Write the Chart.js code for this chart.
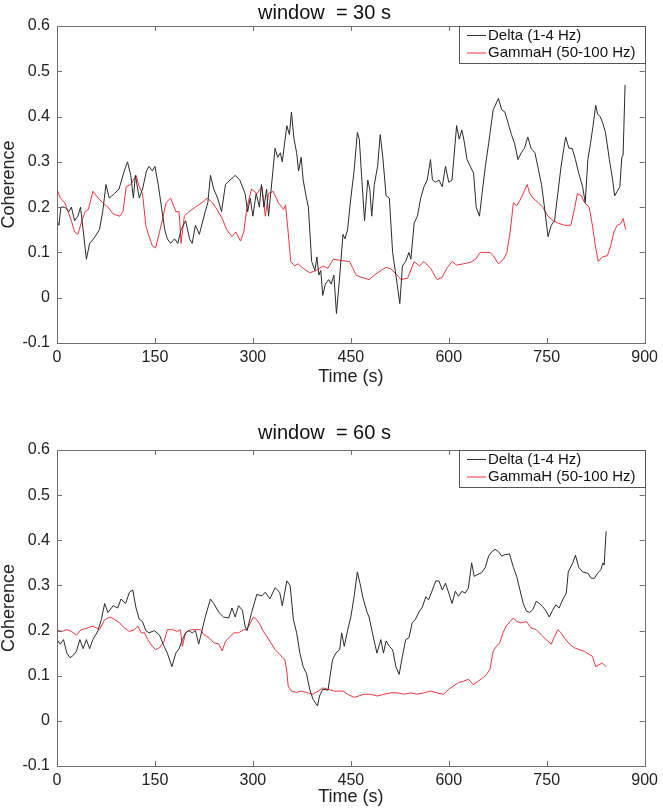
<!DOCTYPE html>
<html>
<head>
<meta charset="utf-8">
<script src="https://cdn.jsdelivr.net/npm/chart.js@4.4.1/dist/chart.umd.min.js"></script>
<style>
  body { margin: 0; background: #fff; }
  canvas { display: block; }
</style>
</head>
<body>
<canvas id="chart1" width="663" height="400"></canvas>
<canvas id="chart2" width="663" height="411"></canvas>
<script>
// Coherence, [time (s), value]
const seriesNames = ["Delta (1-4 Hz)", "GammaH (50-100 Hz)"];
const panelTitles = ["window  = 30 s", "window  = 60 s"];
const xTickValues = [0, 150, 300, 450, 600, 750, 900];
const yTickValues = [-0.1, 0, 0.1, 0.2, 0.3, 0.4, 0.5, 0.6];

const delta30 = [[0,0.17],[3,0.16],[6,0.2],[12,0.2],[18,0.19],[22,0.2],[27,0.17],[32,0.18],[36,0.2],[40,0.15],[45,0.085],[50,0.12],[56,0.13],[65,0.15],[70,0.19],[75,0.25],[80,0.22],[88,0.23],[95,0.24],[103,0.28],[108,0.3],[113,0.27],[117,0.22],[120,0.27],[126,0.22],[131,0.24],[137,0.28],[141,0.29],[146,0.28],[150,0.29],[155,0.25],[160,0.2],[165,0.15],[169,0.13],[174,0.12],[180,0.13],[185,0.12],[190,0.15],[197,0.17],[203,0.13],[207,0.12],[212,0.16],[218,0.14],[227,0.19],[231,0.21],[235,0.27],[240,0.24],[246,0.22],[252,0.19],[258,0.25],[265,0.26],[273,0.27],[280,0.26],[288,0.23],[292,0.19],[296,0.22],[300,0.18],[305,0.23],[310,0.2],[313,0.25],[317,0.2],[321,0.24],[324,0.18],[328,0.24],[334,0.33],[338,0.31],[342,0.32],[345,0.3],[352,0.38],[356,0.36],[359,0.41],[363,0.35],[367,0.32],[370,0.28],[374,0.31],[377,0.26],[382,0.22],[385,0.2],[390,0.08],[395,0.06],[398,0.09],[401,0.05],[404,0.06],[407,0.005],[411,0.03],[416,0.04],[420,0.03],[424,0.05],[428,-0.035],[432,0.03],[438,0.14],[441,0.13],[445,0.15],[450,0.22],[455,0.28],[460,0.365],[463,0.35],[466,0.28],[471,0.17],[476,0.26],[479,0.24],[482,0.18],[486,0.25],[491,0.29],[495,0.36],[499,0.31],[504,0.225],[509,0.22],[514,0.1],[521,0.03],[525,-0.013],[529,0.07],[534,0.08],[539,0.1],[542,0.085],[547,0.165],[552,0.18],[557,0.22],[562,0.245],[567,0.26],[572,0.305],[575,0.26],[580,0.255],[585,0.26],[590,0.245],[595,0.29],[600,0.255],[605,0.26],[612,0.38],[616,0.35],[620,0.37],[623,0.35],[628,0.305],[633,0.29],[638,0.275],[642,0.2],[647,0.18],[651,0.23],[656,0.29],[661,0.34],[668,0.415],[676,0.44],[681,0.415],[686,0.41],[691,0.385],[696,0.36],[701,0.34],[706,0.305],[711,0.32],[716,0.33],[721,0.355],[726,0.33],[732,0.32],[737,0.285],[742,0.25],[747,0.195],[752,0.135],[757,0.16],[762,0.17],[767,0.23],[772,0.29],[779,0.355],[784,0.33],[789,0.33],[794,0.305],[799,0.275],[805,0.245],[809,0.21],[813,0.305],[817,0.34],[821,0.38],[825,0.425],[828,0.405],[832,0.4],[836,0.385],[840,0.365],[846,0.305],[851,0.26],[854,0.225],[858,0.235],[862,0.245],[865,0.31],[867,0.315],[870,0.47]];

const gamma30 = [[0,0.24],[5,0.22],[12,0.21],[17,0.19],[22,0.17],[27,0.145],[32,0.14],[37,0.165],[43,0.19],[48,0.195],[55,0.235],[63,0.22],[70,0.21],[78,0.2],[86,0.185],[96,0.18],[101,0.19],[106,0.245],[113,0.25],[121,0.27],[126,0.245],[131,0.23],[136,0.16],[141,0.135],[146,0.115],[151,0.11],[157,0.145],[162,0.175],[167,0.21],[174,0.22],[182,0.19],[187,0.19],[190,0.12],[195,0.18],[202,0.19],[212,0.2],[222,0.21],[230,0.22],[238,0.21],[245,0.195],[253,0.175],[260,0.15],[268,0.135],[274,0.145],[281,0.125],[286,0.145],[291,0.2],[298,0.24],[306,0.23],[314,0.245],[319,0.18],[324,0.23],[331,0.235],[339,0.21],[347,0.195],[350,0.205],[354,0.145],[358,0.08],[364,0.07],[369,0.075],[377,0.065],[387,0.055],[397,0.06],[407,0.07],[415,0.065],[423,0.085],[436,0.082],[448,0.08],[453,0.065],[458,0.05],[466,0.045],[478,0.04],[486,0.05],[496,0.06],[504,0.067],[511,0.064],[519,0.053],[527,0.04],[537,0.043],[547,0.08],[555,0.07],[562,0.08],[572,0.065],[582,0.04],[590,0.045],[597,0.065],[605,0.08],[612,0.072],[623,0.075],[633,0.078],[641,0.085],[648,0.1],[656,0.1],[663,0.1],[668,0.093],[676,0.075],[684,0.085],[689,0.1],[694,0.145],[699,0.21],[704,0.203],[709,0.215],[714,0.23],[720,0.25],[724,0.23],[729,0.22],[737,0.21],[744,0.2],[752,0.18],[760,0.17],[767,0.165],[777,0.16],[787,0.16],[793,0.2],[797,0.23],[803,0.225],[808,0.21],[815,0.2],[820,0.16],[825,0.11],[829,0.08],[835,0.09],[843,0.093],[848,0.115],[853,0.145],[858,0.16],[863,0.163],[867,0.175],[871,0.15]];

const delta60 = [[0,0.18],[5,0.17],[10,0.18],[15,0.15],[20,0.14],[25,0.145],[30,0.155],[35,0.18],[40,0.16],[45,0.18],[50,0.16],[55,0.18],[63,0.2],[68,0.225],[73,0.26],[78,0.24],[86,0.255],[93,0.25],[98,0.27],[105,0.26],[111,0.285],[116,0.29],[121,0.25],[126,0.225],[131,0.22],[136,0.2],[141,0.195],[149,0.2],[157,0.19],[164,0.165],[169,0.15],[176,0.12],[182,0.15],[187,0.16],[192,0.18],[197,0.195],[202,0.2],[207,0.195],[212,0.2],[217,0.17],[222,0.2],[227,0.23],[235,0.27],[240,0.26],[248,0.24],[255,0.23],[263,0.228],[268,0.25],[273,0.23],[278,0.255],[284,0.245],[288,0.21],[291,0.2],[298,0.24],[306,0.28],[314,0.277],[319,0.285],[326,0.27],[334,0.295],[341,0.285],[345,0.255],[352,0.31],[357,0.3],[362,0.225],[367,0.195],[372,0.15],[377,0.12],[382,0.105],[387,0.07],[392,0.048],[399,0.033],[402,0.055],[407,0.07],[415,0.068],[422,0.135],[427,0.15],[433,0.158],[436,0.195],[440,0.165],[445,0.2],[450,0.23],[455,0.275],[460,0.33],[464,0.305],[469,0.27],[475,0.24],[478,0.23],[483,0.195],[490,0.15],[496,0.18],[500,0.15],[504,0.177],[509,0.165],[514,0.158],[519,0.12],[524,0.103],[529,0.143],[534,0.18],[539,0.184],[544,0.217],[549,0.225],[555,0.243],[559,0.25],[565,0.275],[569,0.268],[575,0.29],[580,0.31],[585,0.31],[590,0.29],[595,0.305],[600,0.283],[605,0.26],[610,0.287],[615,0.276],[620,0.287],[625,0.283],[630,0.294],[635,0.35],[639,0.32],[645,0.325],[650,0.328],[656,0.34],[661,0.365],[666,0.375],[671,0.38],[676,0.375],[681,0.365],[686,0.368],[693,0.37],[699,0.34],[704,0.32],[709,0.29],[714,0.26],[719,0.243],[724,0.24],[729,0.247],[734,0.265],[739,0.26],[744,0.253],[749,0.243],[754,0.23],[759,0.245],[764,0.257],[769,0.25],[775,0.27],[780,0.283],[783,0.33],[790,0.35],[794,0.367],[799,0.34],[805,0.33],[813,0.327],[818,0.316],[823,0.316],[828,0.327],[833,0.335],[836,0.35],[838,0.345],[841,0.42]];

const gamma60 = [[0,0.202],[7,0.198],[15,0.202],[22,0.198],[30,0.19],[37,0.202],[45,0.205],[55,0.21],[65,0.202],[73,0.224],[81,0.23],[88,0.225],[96,0.217],[103,0.206],[111,0.198],[119,0.202],[124,0.21],[129,0.195],[134,0.195],[139,0.18],[146,0.165],[151,0.158],[157,0.162],[164,0.176],[169,0.202],[177,0.202],[184,0.198],[189,0.202],[192,0.165],[197,0.195],[205,0.202],[212,0.202],[220,0.202],[225,0.191],[233,0.184],[240,0.173],[248,0.17],[253,0.155],[258,0.176],[263,0.184],[271,0.195],[278,0.195],[286,0.202],[291,0.202],[296,0.217],[301,0.23],[306,0.224],[311,0.213],[316,0.198],[321,0.188],[326,0.176],[334,0.158],[341,0.147],[349,0.136],[352,0.11],[354,0.077],[359,0.066],[367,0.063],[374,0.066],[382,0.063],[392,0.059],[400,0.066],[407,0.073],[415,0.07],[425,0.066],[430,0.066],[438,0.066],[445,0.059],[455,0.052],[462,0.055],[470,0.059],[480,0.059],[491,0.055],[501,0.059],[511,0.062],[521,0.062],[532,0.059],[542,0.062],[552,0.059],[562,0.062],[572,0.066],[582,0.062],[592,0.059],[600,0.07],[607,0.077],[615,0.085],[623,0.088],[630,0.092],[638,0.08],[645,0.088],[653,0.096],[658,0.103],[663,0.114],[668,0.154],[673,0.165],[678,0.173],[683,0.195],[688,0.21],[694,0.22],[699,0.228],[704,0.22],[711,0.217],[719,0.22],[726,0.206],[734,0.202],[742,0.19],[749,0.18],[757,0.17],[762,0.187],[767,0.202],[772,0.195],[777,0.184],[785,0.17],[792,0.162],[800,0.158],[808,0.154],[815,0.147],[820,0.143],[825,0.12],[830,0.124],[835,0.128],[841,0.12]];

const FONT = "'Liberation Sans', Arial, Helvetica, sans-serif";
const colors = ["#2b2b2b", "#ec3540"];

// MATLAB style box with inward tick marks
const matlabAxes = {
  id: "matlabAxes",
  afterDatasetsDraw(chart) {
    const ctx = chart.ctx, a = chart.chartArea;
    const xs = chart.scales.x, ys = chart.scales.y;
    ctx.save();
    ctx.strokeStyle = "#6e6e6e";
    ctx.lineWidth = 1;
    ctx.beginPath();
    xs.ticks.forEach(t => {
      const px = Math.round(xs.getPixelForValue(t.value)) + 0.5;
      ctx.moveTo(px, a.bottom); ctx.lineTo(px, a.bottom - 5);
      ctx.moveTo(px, a.top); ctx.lineTo(px, a.top + 5);
    });
    ys.ticks.forEach(t => {
      const py = Math.round(ys.getPixelForValue(t.value)) + 0.5;
      ctx.moveTo(a.left, py); ctx.lineTo(a.left + 5, py);
      ctx.moveTo(a.right, py); ctx.lineTo(a.right - 5, py);
    });
    ctx.stroke();
    ctx.strokeRect(Math.round(a.left) + 0.5, Math.round(a.top) + 0.5,
      Math.round(a.width), Math.round(a.height));
    ctx.restore();
  }
};

// legend box in the upper right corner of the plot
const boxLegend = {
  id: "boxLegend",
  afterDraw(chart) {
    const ctx = chart.ctx, a = chart.chartArea;
    const w = 186, h = 37;
    const left = Math.round(a.right) - w, top = Math.round(a.top);
    ctx.save();
    ctx.fillStyle = "#fff";
    ctx.fillRect(left, top, w, h);
    ctx.strokeStyle = "#555";
    ctx.lineWidth = 1;
    ctx.strokeRect(left + 0.5, top + 0.5, w, h);
    ctx.font = "15px " + FONT;
    ctx.textBaseline = "middle";
    chart.data.datasets.forEach((ds, i) => {
      const y = top + 9.5 + i * 17.5;
      ctx.strokeStyle = ds.borderColor;
      ctx.beginPath();
      ctx.moveTo(left + 8, y); ctx.lineTo(left + 27, y);
      ctx.stroke();
      ctx.fillStyle = "#111";
      ctx.fillText(ds.label, left + 29, y);
    });
    ctx.restore();
  }
};

function toPoints(pairs) {
  return pairs.map(p => ({ x: p[0], y: p[1] }));
}

function makeChart(canvasId, title, delta, gamma, lay) {
  new Chart(document.getElementById(canvasId), {
    type: "line",
    data: {
      datasets: [
        { label: seriesNames[0], data: toPoints(delta), borderColor: colors[0], borderWidth: 1, pointRadius: 0, tension: 0 },
        { label: seriesNames[1], data: toPoints(gamma), borderColor: colors[1], borderWidth: 1, pointRadius: 0, tension: 0 }
      ]
    },
    options: {
      responsive: false,
      animation: false,
      layout: { padding: { left: 0, right: 14, top: 0, bottom: 0 } },
      plugins: {
        legend: { display: false },
        tooltip: { enabled: false },
        title: {
          display: true,
          text: title,
          color: "#111",
          font: { family: FONT, size: 20, weight: "normal", lineHeight: 1.2 },
          padding: { top: lay.titleTop, bottom: lay.titleBottom }
        }
      },
      scales: {
        x: {
          type: "linear",
          min: xTickValues[0],
          max: xTickValues[xTickValues.length - 1],
          afterBuildTicks: s => { s.ticks = xTickValues.map(v => ({ value: v })); },
          grid: { display: false, drawTicks: false },
          border: { display: false },
          ticks: { color: "#222", padding: 5, maxRotation: 0, font: { family: FONT, size: 16 } },
          title: {
            display: true, text: "Time (s)", color: "#222",
            font: { family: FONT, size: 18, lineHeight: 1 },
            padding: { top: 0, bottom: lay.xTitleBottom }
          },
          afterFit: s => { s.height = lay.xHeight; }
        },
        y: {
          min: yTickValues[0],
          max: yTickValues[yTickValues.length - 1],
          afterBuildTicks: s => { s.ticks = yTickValues.map(v => ({ value: v })); },
          grid: { display: false, drawTicks: false },
          border: { display: false },
          ticks: {
            color: "#222", padding: 7, font: { family: FONT, size: 16 },
            callback: v => String(Math.round(v * 10) / 10)
          },
          title: {
            display: true, text: "Coherence", color: "#222",
            font: { family: FONT, size: 18, lineHeight: 1 },
            padding: { top: 0, bottom: 0 }
          },
          afterFit: s => { s.width = 57; }
        }
      }
    },
    plugins: [matlabAxes, boxLegend]
  });
}

makeChart("chart1", panelTitles[0], delta30, gamma30,
  { titleTop: 1, titleBottom: 1, xHeight: 57, xTitleBottom: 14 });
makeChart("chart2", panelTitles[1], delta60, gamma60,
  { titleTop: 21, titleBottom: 5, xHeight: 45, xTitleBottom: 5 });
</script>
</body>
</html>
